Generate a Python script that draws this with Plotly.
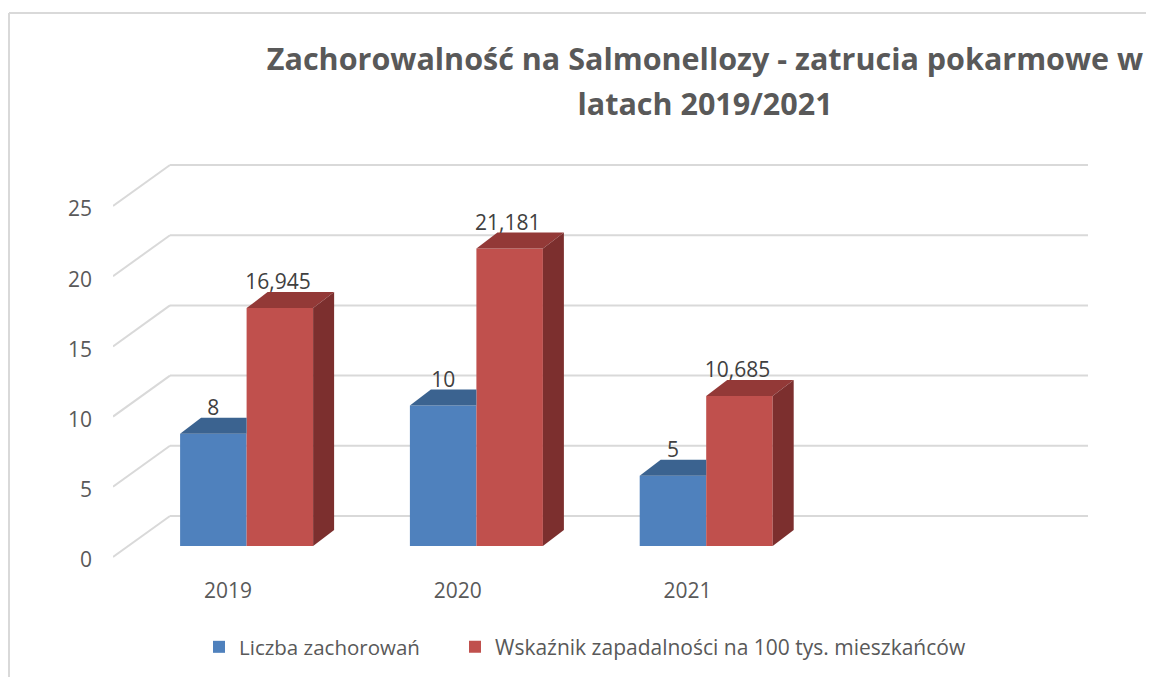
import plotly.graph_objects as go

years = ["2019", "2020", "2021"]
cat_pos = [0, 1, 2]
cases = [8, 10, 5]
rate = [16.945, 21.181, 10.685]
case_labels = ["8", "10", "5"]
rate_labels = ["16,945", "21,181", "10,685"]
y_ticks = [0, 5, 10, 15, 20, 25]
y_tick_labels = ["0", "5", "10", "15", "20", "25"]

OFF = 8  # page margin around the figure
W, H = 1154, 677
NUDGE_PX = 3
L, R, T, B = 113 - OFF, 1088 - OFF, 164 - OFF, 557 + NUDGE_PX - OFF
PX_X = 229.8
PX_Y = 14.04
x0 = -0.5
x1 = x0 + (R - L) / PX_X
label_nudge = NUDGE_PX / PX_Y
y0 = -label_nudge
y1 = y0 + (B - T) / PX_Y
FONT = "Open Sans"


def px_x(p):
    return (p - OFF - L) / (R - L)


def px_y(p):
    return (B - (p - OFF)) / (B - T)


wall_dx, wall_dy = 57 / PX_X, 41 / PX_Y
bar_dx, bar_dy = 21 / PX_X, 16 / PX_Y
base = 11 / PX_Y
bar_w = 66.5 / PX_X
group_off = -0.208
lift = 0.58


def face_trace(xs, ys, color):
    return go.Scatter(x=xs, y=ys, mode="lines", fill="toself", fillcolor=color,
                      line=dict(width=0, color=color), hoverinfo="skip", showlegend=False)


fig = go.Figure()
fig.add_bar(name="Liczba zachorowań", x=[c + group_off + bar_w / 2 for c in cat_pos], y=cases, base=base,
            width=bar_w, marker=dict(color="#4F81BD", line=dict(width=0)), hoverinfo="x+y", legend="legend")
fig.add_bar(name="Wskaźnik zapadalności na 100 tys. mieszkańców",
            x=[c + group_off + bar_w * 1.5 for c in cat_pos], y=rate, base=base,
            width=bar_w, marker=dict(color="#C0504D", line=dict(width=0)), hoverinfo="x+y", legend="legend2")

for c, v, r in zip(cat_pos, cases, rate):
    a = c + group_off
    b = a + bar_w
    e = b + bar_w
    tv = v + base
    tr = r + base
    fig.add_trace(face_trace([a, b, b, a + bar_dx, a], [tv, tv, tv + bar_dy, tv + bar_dy, tv], "#3B6390"))
    fig.add_trace(face_trace([b, e, e + bar_dx, b + bar_dx, b], [tr, tr, tr + bar_dy, tr + bar_dy, tr], "#933937"))
    fig.add_trace(face_trace([e, e + bar_dx, e + bar_dx, e, e],
                             [base, base + bar_dy, tr + bar_dy, tr, base], "#7C2F2E"))

fig.add_trace(go.Scatter(
    x=[c + group_off + bar_w / 2 for c in cat_pos], y=[v + base + bar_dy + lift for v in cases],
    text=case_labels, mode="text", textposition="middle center",
    textfont=dict(family=FONT, size=21, color="#404040"), hoverinfo="skip", showlegend=False))
fig.add_trace(go.Scatter(
    x=[c + group_off + bar_w * 1.5 - 0.008 for c in cat_pos], y=[r + base + bar_dy + lift for r in rate],
    text=rate_labels, mode="text", textposition="middle center",
    textfont=dict(family=FONT, size=21, color="#404040"), hoverinfo="skip", showlegend=False))

grid = dict(color="#D9D9D9", width=2)
shapes = []
for t in y_ticks:
    shapes.append(dict(type="line", xref="x", yref="y", x0=x0, y0=t, x1=x0 + wall_dx, y1=t + wall_dy,
                       line=grid, layer="below"))
    shapes.append(dict(type="line", xref="x", yref="y", x0=x0 + wall_dx, y0=t + wall_dy, x1=x1, y1=t + wall_dy,
                       line=grid, layer="below"))
shapes.append(dict(type="line", xref="paper", yref="paper", x0=px_x(9), y0=px_y(677), x1=px_x(9), y1=px_y(13), line=grid))
shapes.append(dict(type="line", xref="paper", yref="paper", x0=px_x(9), y0=px_y(13), x1=px_x(1154), y1=px_y(13), line=grid))

fig.update_layout(
    width=W, height=H, autosize=False,
    margin=dict(l=L, r=W - R, t=T, b=H - B, autoexpand=False),
    paper_bgcolor="white", plot_bgcolor="rgba(0,0,0,0)",
    barmode="overlay", shapes=shapes,
    font=dict(family=FONT, size=21, color="#595959"),
    title=dict(text="<b><span style=\"font-size:30.5px\">Zachorowalność na Salmonellozy - zatrucia pokarmowe w</span><br>"
                    "<span style=\"font-size:30.5px\">latach 2019/2021</span></b>",
               x=(705 - OFF) / W, xanchor="center", xref="container", y=1 - (70 - OFF) / H, yanchor="top",
               font=dict(family=FONT, size=34.6, color="#595959")),
    xaxis=dict(range=[x0, x1], tickmode="array", tickvals=cat_pos, ticktext=years, showgrid=False,
               zeroline=False, showline=False, ticks="", ticklabelstandoff=16,
               tickfont=dict(family=FONT, size=21, color="#595959")),
    yaxis=dict(range=[y0, y1], tickmode="array", tickvals=[t - label_nudge for t in y_ticks],
               ticktext=y_tick_labels, showgrid=False, zeroline=False,
               showline=False, ticks="", ticklabelstandoff=20,
               tickfont=dict(family=FONT, size=21, color="#595959")),
    legend=dict(x=px_x(206), xanchor="left", y=px_y(647), yanchor="middle", indentation=-7,
                font=dict(family=FONT, size=20.5, color="#595959"), bgcolor="rgba(0,0,0,0)",
                itemclick=False, itemdoubleclick=False),
    legend2=dict(x=px_x(462), xanchor="left", y=px_y(647), yanchor="middle", indentation=-7,
                 font=dict(family=FONT, size=21, color="#595959"), bgcolor="rgba(0,0,0,0)",
                 itemclick=False, itemdoubleclick=False),
)
fig.write_html("out.html")
